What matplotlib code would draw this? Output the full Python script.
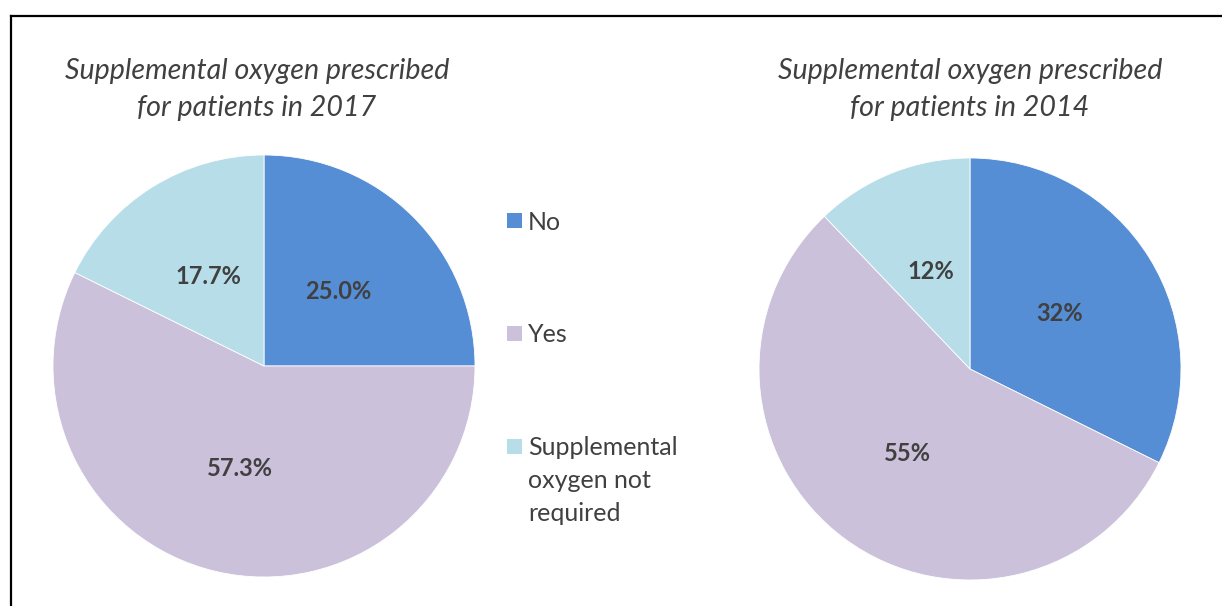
import matplotlib.pyplot as plt
from matplotlib.patches import Rectangle
from matplotlib.lines import Line2D

# --- data ---
categories = ["No", "Yes", "Supplemental\noxygen not\nrequired"]
colors = ["#558ED5", "#CCC1DA", "#B7DEE8"]

values_2017 = [25.0, 57.3, 17.7]
labels_2017 = ["25.0%", "57.3%", "17.7%"]

values_2014 = [32, 55, 12]
labels_2014 = ["32%", "55%", "12%"]

title_2017 = "Supplemental oxygen prescribed\nfor patients in 2017"
title_2014 = "Supplemental oxygen prescribed\nfor patients in 2014"

W, H = 1222, 606
TXT = "#404040"
plt.rcParams['font.family'] = ['Lato', 'DejaVu Sans']

fig = plt.figure(figsize=(W / 100, H / 100), dpi=100)


def px_axes(left, top, size):
    # axes box given in pixel coords (top-left origin)
    return fig.add_axes([left / W, (H - top - size) / H, size / W, size / H])


def draw_pie(ax, vals, labs):
    wedges, _ = ax.pie(vals, colors=colors, startangle=90, counterclock=False,
                       labels=labs, labeldistance=0.5,
                       wedgeprops=dict(edgecolor="white", linewidth=0.6),
                       textprops=dict(color=TXT, fontsize=17, fontweight="bold",
                                      ha="center", va="center"))
    ax.set_xlim(-1, 1)
    ax.set_ylim(-1, 1)
    ax.set_aspect("equal")
    ax.axis("off")
    return wedges


ax1 = px_axes(53, 155, 422)
draw_pie(ax1, values_2017, labels_2017)

ax2 = px_axes(759, 158, 422)
draw_pie(ax2, values_2014, labels_2014)

# titles
fig.text(257 / W, 1 - 89.5 / H, title_2017, ha="center", va="center",
         fontsize=20.6, style="italic", color=TXT, linespacing=1.5)
fig.text(970 / W, 1 - 89.5 / H, title_2014, ha="center", va="center",
         fontsize=20.6, style="italic", color=TXT, linespacing=1.5)

# legend, drawn by hand to match the spacing
leg_y = [220.5, 333.5, 446]
for cat, col, y in zip(categories, colors, leg_y):
    fig.add_artist(Rectangle((507 / W, 1 - (y + 7.5) / H), 15 / W, 15 / H,
                             transform=fig.transFigure, facecolor=col,
                             edgecolor="none"))
    fig.text(528 / W, 1 - (y - 10) / H, cat, ha="left", va="top",
             fontsize=18, color=TXT, linespacing=1.52)

# frame lines (left and top only, as in the cropped original)
fig.add_artist(Line2D([10.5 / W, 10.5 / W], [0, 1 - 15.5 / H],
                      transform=fig.transFigure, color="black", lw=1.6))
fig.add_artist(Line2D([10.5 / W, 1], [1 - 15.5 / H, 1 - 15.5 / H],
                      transform=fig.transFigure, color="black", lw=1.6))

fig.savefig("out.png", dpi=100)
